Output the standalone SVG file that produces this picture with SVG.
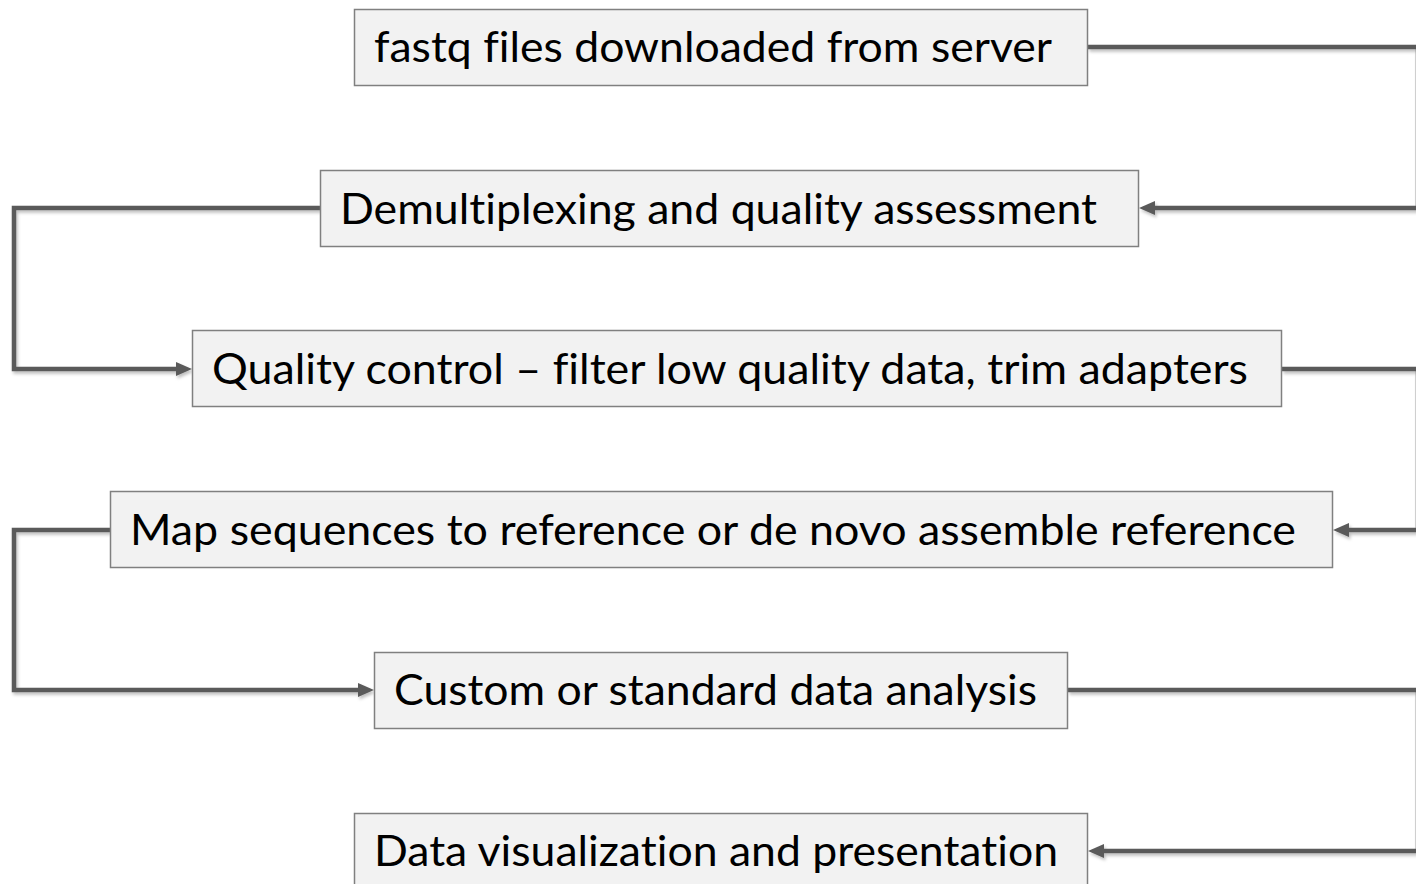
<svg xmlns="http://www.w3.org/2000/svg" width="1416" height="884" viewBox="0 0 1416 884">
<style>
.box{fill:#f2f2f2;stroke:#808080;stroke-width:1.5}
.lbl{font-family:Lato,"Open Sans","Noto Sans",sans-serif;font-size:42px;fill:#000;font-variant-ligatures:none}
.con{fill:none;stroke:#5a5a5a;stroke-width:4.5;stroke-linejoin:miter}
</style>
<defs>
<marker id="ah" viewBox="0 0 16 14" refX="4" refY="7" markerWidth="16" markerHeight="14" orient="auto" markerUnits="userSpaceOnUse">
<path d="M0,0 L16,7 L0,14 z" fill="#5a5a5a"/>
</marker>
<filter id="sh" x="-5%" y="-5%" width="110%" height="110%">
<feDropShadow dx="1.5" dy="2.5" stdDeviation="1.5" flood-color="#000" flood-opacity="0.25"/>
</filter>
</defs>
<rect width="1416" height="884" fill="#fff"/>
<g id="connectors" filter="url(#sh)">
<path class="con" d="M1088,47 H1418 V208 H1151" marker-end="url(#ah)"/>
<path class="con" d="M320,208 H14 V369 H180" marker-end="url(#ah)"/>
<path class="con" d="M1282,369 H1418 V530 H1345" marker-end="url(#ah)"/>
<path class="con" d="M110,530 H14 V690 H362" marker-end="url(#ah)"/>
<path class="con" d="M1068,690 H1418 V851 H1100" marker-end="url(#ah)"/>
</g>
<g id="n1"><rect class="box" x="354.5" y="9.5" width="733" height="76"/><text class="lbl" x="374" y="62" textLength="678" lengthAdjust="spacingAndGlyphs">fastq files downloaded from server</text></g>
<g id="n2"><rect class="box" x="320.5" y="170.5" width="818" height="76"/><text class="lbl" x="340" y="224" textLength="757" lengthAdjust="spacingAndGlyphs">Demultiplexing and quality assessment</text></g>
<g id="n3"><rect class="box" x="192.5" y="330.5" width="1089" height="76"/><text class="lbl" x="212" y="384" textLength="1036" lengthAdjust="spacingAndGlyphs">Quality control – filter low quality data, trim adapters</text></g>
<g id="n4"><rect class="box" x="110.5" y="491.5" width="1222" height="76"/><text class="lbl" x="130" y="545" textLength="1166" lengthAdjust="spacingAndGlyphs">Map sequences to reference or de novo assemble reference</text></g>
<g id="n5"><rect class="box" x="374.5" y="652.5" width="693" height="76"/><text class="lbl" x="394" y="705" textLength="643" lengthAdjust="spacingAndGlyphs">Custom or standard data analysis</text></g>
<g id="n6"><rect class="box" x="354.5" y="813.5" width="733" height="80"/><text class="lbl" x="374" y="866" textLength="684" lengthAdjust="spacingAndGlyphs">Data visualization and presentation</text></g>
</svg>
